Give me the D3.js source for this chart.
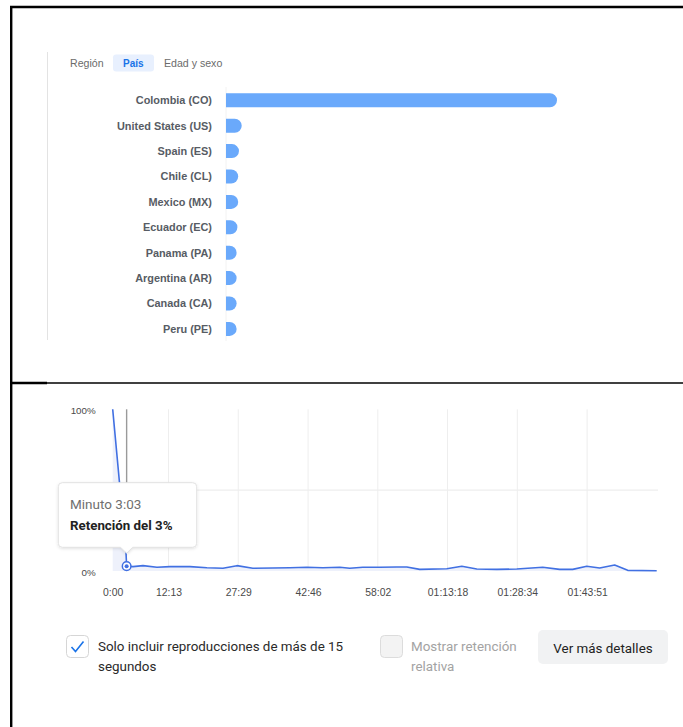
<!DOCTYPE html>
<html>
<head>
<meta charset="utf-8">
<script src="https://cdn.jsdelivr.net/npm/d3@7"></script>
<style>
  html, body { margin: 0; padding: 0; background: #fff; }
  svg { display: block; }
</style>
</head>
<body>
<svg id="chart" width="683" height="727"></svg>
<script>
// ---------- data ----------
const tabs = ["Región", "País", "Edad y sexo"];
const activeTab = "País";

const countries = ["Colombia (CO)", "United States (US)", "Spain (ES)", "Chile (CL)", "Mexico (MX)",
                   "Ecuador (EC)", "Panama (PA)", "Argentina (AR)", "Canada (CA)", "Peru (PE)"];
const countryShare = [84.2, 4.0, 3.3, 3.1, 3.1, 2.9, 2.7, 2.7, 2.7, 2.7];

// retention curve: seconds, percent
const retSeconds = [0, 175, 183, 266, 398, 581, 752, 1015, 1238, 1448, 1631, 1841, 2104, 2327, 2550, 2760,
                    2983, 3114, 3285, 3508, 3731, 3863, 4033, 4388, 4585, 4782, 5044, 5307, 5648, 5871,
                    6042, 6226, 6396, 6593, 6764, 7145];
const retPercent = [100, 11.1, 3.0, 2.7, 3.3, 2.3, 2.7, 2.7, 2.0, 1.7, 3.3, 1.7, 1.9, 2.0, 2.3, 2.0,
                    2.3, 1.7, 2.3, 2.3, 2.5, 2.5, 1.0, 1.4, 2.9, 1.2, 1.0, 1.2, 2.3, 1.0,
                    1.0, 2.9, 1.9, 3.7, 0.4, 0.2];
const videoDuration = 7145;
const xTickSeconds = [0, 733, 1649, 2566, 3482, 4398, 5314, 6231];
const xTickLabels = ["0:00", "12:13", "27:29", "42:46", "58:02", "01:13:18", "01:28:34", "01:43:51"];
const yTickValues = [0, 50, 100];
const yTickLabels = ["0%", "", "100%"];

const hoverSecond = 183;
const tooltipTitle = "Minuto 3:03";
const tooltipValue = "Retención del 3%";

const checkOneLines = ["Solo incluir reproducciones de más de 15", "segundos"];
const checkTwoLines = ["Mostrar retención", "relativa"];
const buttonLabel = "Ver más detalles";

// ---------- drawing ----------
const svg = d3.select("#chart");
const sans = "'Liberation Sans', Arial, Helvetica, sans-serif";
const roboto = "Roboto, 'Noto Sans', sans-serif";

// frame lines
svg.append("line").attr("x1", 10).attr("x2", 683).attr("y1", 7).attr("y2", 7)
  .attr("stroke", "#000").attr("stroke-width", 2.4);
svg.append("line").attr("x1", 11.2).attr("x2", 11.2).attr("y1", 6).attr("y2", 727)
  .attr("stroke", "#000").attr("stroke-width", 2.4);
svg.append("line").attr("x1", 10).attr("x2", 683).attr("y1", 383).attr("y2", 383)
  .attr("stroke", "#000").attr("stroke-width", 1.3);
svg.append("line").attr("x1", 10).attr("x2", 47).attr("y1", 383).attr("y2", 383)
  .attr("stroke", "#000").attr("stroke-width", 2.4);

// ---------- top panel ----------
svg.append("line").attr("x1", 47.5).attr("x2", 47.5).attr("y1", 52).attr("y2", 340)
  .attr("stroke", "#e3e3e3").attr("stroke-width", 1);

const tabX = { "Región": 70, "País": 123, "Edad y sexo": 164 };
svg.append("rect").attr("x", 113).attr("y", 54.5).attr("width", 41).attr("height", 17)
  .attr("rx", 3).attr("fill", "#e8f0fe");
svg.selectAll("text.tab").data(tabs).join("text")
  .attr("class", "tab")
  .attr("x", d => tabX[d]).attr("y", 63).attr("dy", "0.35em")
  .attr("font-family", sans).attr("font-size", d => d === activeTab ? 10 : 10.6)
  .attr("font-weight", d => d === activeTab ? "bold" : "normal")
  .attr("fill", d => d === activeTab ? "#1a73e8" : "#6b6b6b")
  .text(d => d);

const barX0 = 226;
const yBand = d3.scaleBand().domain(countries).range([87.6, 341.6]).paddingInner(0.45).paddingOuter(0.225);
const xBar = d3.scaleLinear().domain([0, 84.2]).range([0, 331]);

svg.append("line").attr("x1", barX0).attr("x2", barX0).attr("y1", 87).attr("y2", 341)
  .attr("stroke", "#f2f2f2").attr("stroke-width", 1);

const bh = 14;
function barPath(x0, yc, w) {
  const r = Math.min(bh / 2, w);
  const y0 = yc - bh / 2, y1 = yc + bh / 2;
  const p = d3.path();
  p.moveTo(x0, y0);
  p.lineTo(x0 + w - r, y0);
  p.arcTo(x0 + w, y0, x0 + w, y0 + r, r);
  p.lineTo(x0 + w, y1 - r);
  p.arcTo(x0 + w, y1, x0 + w - r, y1, r);
  p.lineTo(x0, y1);
  p.closePath();
  return p.toString();
}
const rows = countries.map((c, i) => ({ c, v: countryShare[i] }));
svg.selectAll("path.bar").data(rows).join("path")
  .attr("class", "bar")
  .attr("d", d => barPath(barX0, yBand(d.c) + yBand.bandwidth() / 2, xBar(d.v)))
  .attr("fill", "#6aa9fb");
svg.selectAll("text.clabel").data(rows).join("text")
  .attr("class", "clabel")
  .attr("x", 212).attr("y", d => yBand(d.c) + yBand.bandwidth() / 2).attr("dy", "0.35em")
  .attr("text-anchor", "end")
  .attr("font-family", sans).attr("font-size", 10.9).attr("font-weight", "bold")
  .attr("fill", "#575c64")
  .text(d => d.c);

// ---------- retention chart ----------
const x = d3.scaleLinear().domain([0, videoDuration]).range([112.7, 656.7]);
const y = d3.scaleLinear().domain([0, 100]).range([571, 409.3]);

// vertical grid
svg.selectAll("line.vgrid").data(xTickSeconds.slice(1)).join("line")
  .attr("class", "vgrid")
  .attr("x1", d => x(d)).attr("x2", d => x(d)).attr("y1", y(100)).attr("y2", y(0))
  .attr("stroke", "#eeeeee").attr("stroke-width", 1);
// horizontal grid at 50%
svg.append("line").attr("x1", x(0)).attr("x2", 658).attr("y1", y(50)).attr("y2", y(50))
  .attr("stroke", "#eeeeee").attr("stroke-width", 1.2);

// x axis labels
const xAxis = d3.axisBottom(x).tickValues(xTickSeconds)
  .tickFormat((d, i) => xTickLabels[i]).tickSize(0).tickPadding(0);
const gx = svg.append("g").attr("transform", `translate(0, ${592.7})`).call(xAxis);
gx.select(".domain").remove();
gx.selectAll("text").attr("dy", "0.35em").attr("font-family", sans).attr("font-size", 10.4).attr("fill", "#4a4a4a");

// y axis labels
const yAxis = d3.axisLeft(y).tickValues(yTickValues)
  .tickFormat((d, i) => yTickLabels[i]).tickSize(0).tickPadding(0);
const gy = svg.append("g").attr("transform", "translate(95.7, 1)").call(yAxis);
gy.select(".domain").remove();
gy.selectAll("text").attr("font-family", sans).attr("font-size", 9.8).attr("fill", "#4a4a4a");

const pts = retSeconds.map((s, i) => ({ s, p: retPercent[i] }));
const area = d3.area().x(d => x(d.s)).y0(y(0)).y1(d => y(d.p));
svg.append("path").datum(pts).attr("d", area).attr("fill", "#eef1fb");

const line = d3.line().x(d => x(d.s)).y(d => y(d.p));
svg.append("path").datum(pts).attr("d", line)
  .attr("fill", "none").attr("stroke", "#4170e2").attr("stroke-width", 1.6).attr("stroke-linejoin", "round");

// hover line
const hx = x(hoverSecond);
svg.append("line").attr("x1", hx).attr("x2", hx).attr("y1", y(100)).attr("y2", 490)
  .attr("stroke", "#9a9a9a").attr("stroke-width", 1.4);

// marker
const hy = y(retPercent[retSeconds.indexOf(hoverSecond)]);
svg.append("circle").attr("cx", hx).attr("cy", hy).attr("r", 4.3)
  .attr("fill", "#fff").attr("stroke", "#4170e2").attr("stroke-width", 1.5);
svg.append("circle").attr("cx", hx).attr("cy", hy).attr("r", 2)
  .attr("fill", "#4170e2");

// tooltip
const defs = svg.append("defs");
const flt = defs.append("filter").attr("id", "shadow").attr("x", "-20%").attr("y", "-20%").attr("width", "140%").attr("height", "150%");
flt.append("feDropShadow").attr("dx", 0).attr("dy", 1).attr("stdDeviation", 1.5).attr("flood-color", "#000").attr("flood-opacity", 0.12);
const tt = svg.append("g").attr("filter", "url(#shadow)");
const tx0 = 58.3, tx1 = 196.7, ty0 = 482.7, ty1 = 547.3, r = 4;
const tp = d3.path();
tp.moveTo(tx0 + r, ty0);
tp.lineTo(tx1 - r, ty0); tp.arcTo(tx1, ty0, tx1, ty0 + r, r);
tp.lineTo(tx1, ty1 - r); tp.arcTo(tx1, ty1, tx1 - r, ty1, r);
tp.lineTo(hx + 6, ty1); tp.lineTo(hx, ty1 + 6); tp.lineTo(hx - 6, ty1);
tp.lineTo(tx0 + r, ty1); tp.arcTo(tx0, ty1, tx0, ty1 - r, r);
tp.lineTo(tx0, ty0 + r); tp.arcTo(tx0, ty0, tx0 + r, ty0, r);
tp.closePath();
tt.append("path").attr("d", tp.toString()).attr("fill", "#fff").attr("stroke", "#e2e2e2").attr("stroke-width", 1);
svg.append("text").attr("x", 70).attr("y", 504.3).attr("dy", "0.35em")
  .attr("font-family", roboto).attr("font-size", 13.5).attr("fill", "#6f6f6f").text(tooltipTitle);
svg.append("text").attr("x", 70).attr("y", 525.7).attr("dy", "0.35em")
  .attr("font-family", roboto).attr("font-size", 13.3).attr("font-weight", "bold").attr("fill", "#222").text(tooltipValue);

// ---------- controls ----------
svg.append("rect").attr("x", 66.5).attr("y", 635.5).attr("width", 22).attr("height", 22).attr("rx", 4)
  .attr("fill", "#fff").attr("stroke", "#d6d6d6");
svg.append("path").attr("d", "M71.5 647 L75.5 651.5 L83.5 641.5")
  .attr("fill", "none").attr("stroke", "#1a73e8").attr("stroke-width", 1.6);
svg.selectAll("text.c1").data(checkOneLines).join("text").attr("class", "c1")
  .attr("x", 98).attr("y", (d, i) => 646 + i * 20).attr("dy", "0.35em")
  .attr("font-family", roboto).attr("font-size", 13.4).attr("fill", "#2a2a2a").text(d => d);

svg.append("rect").attr("x", 380.5).attr("y", 635.5).attr("width", 22).attr("height", 22).attr("rx", 4)
  .attr("fill", "#f3f3f3").attr("stroke", "#dcdcdc");
svg.selectAll("text.c2").data(checkTwoLines).join("text").attr("class", "c2")
  .attr("x", 411).attr("y", (d, i) => 646 + i * 20).attr("dy", "0.35em")
  .attr("font-family", roboto).attr("font-size", 13.4).attr("fill", "#a3a3a3").text(d => d);

svg.append("rect").attr("x", 538).attr("y", 630).attr("width", 130).attr("height", 34).attr("rx", 5)
  .attr("fill", "#f1f2f3");
svg.append("text").attr("x", 603).attr("y", 648).attr("dy", "0.35em").attr("text-anchor", "middle")
  .attr("font-family", roboto).attr("font-size", 13.4).attr("fill", "#222").text(buttonLabel);
</script>
</body>
</html>
